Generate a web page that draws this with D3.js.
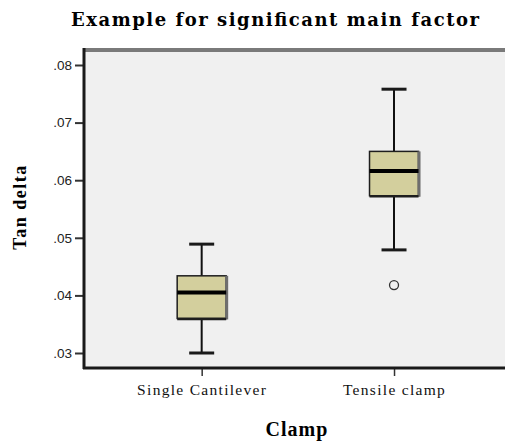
<!DOCTYPE html>
<html>
<head>
<meta charset="utf-8">
<script src="https://cdn.jsdelivr.net/npm/d3@7.9.0/dist/d3.min.js"></script>
<style>
  body { margin: 0; background: #fff; }
  svg { display: block; }
</style>
</head>
<body>
<svg id="chart" width="505" height="441"></svg>
<script>
// data
const categories = ['Single Cantilever', 'Tensile clamp'];
const whiskerLow = [0.0300, 0.0479];
const q1 = [0.0360, 0.0573];
const median = [0.0405, 0.0616];
const q3 = [0.0434, 0.0650];
const whiskerHigh = [0.0489, 0.0758];
const outliers = [[], [0.0418]];
const yTicks = [0.03, 0.04, 0.05, 0.06, 0.07, 0.08];

const boxes = categories.map((c, i) => ({
  name: c, lo: whiskerLow[i], q1: q1[i], med: median[i], q3: q3[i], hi: whiskerHigh[i], out: outliers[i]
}));

const svg = d3.select('#chart');
const plotLeft = 83, plotRight = 505, plotTop = 48, plotBottom = 369;
const serif = 'Liberation Serif, Times New Roman, serif';

let y = d3.scaleLinear().domain([0.03, 0.08]).range([353, 65]);
let x = d3.scalePoint().domain(categories).range([plotLeft, 512.7]).padding(0.617);

// plot background
svg.append('rect')
  .attr('x', plotLeft).attr('y', plotTop)
  .attr('width', plotRight - plotLeft).attr('height', plotBottom - plotTop)
  .attr('fill', '#f0f0f0');

// top frame line
svg.append('line')
  .attr('x1', plotLeft).attr('x2', plotRight)
  .attr('y1', plotTop + 2).attr('y2', plotTop + 2)
  .attr('stroke', '#7a7a7a').attr('stroke-width', 4);

// y axis
let yAxis = d3.axisLeft(y).tickValues(yTicks)
  .tickFormat(d => d3.format('.2f')(d).replace(/^0/, ''))
  .tickSize(8).tickPadding(3);
let gy = svg.append('g').attr('transform', `translate(${plotLeft},0)`).call(yAxis);
gy.select('.domain').remove();
gy.selectAll('.tick line').attr('stroke', '#333').attr('stroke-width', 2);
gy.selectAll('.tick text')
  .attr('font-family', 'Liberation Sans, Arial, sans-serif')
  .attr('font-size', 13.5).attr('fill', '#222');

svg.append('line')
  .attr('x1', plotLeft + 1).attr('x2', plotLeft + 1)
  .attr('y1', plotTop).attr('y2', plotBottom)
  .attr('stroke', '#1a1a1a').attr('stroke-width', 3);

// x axis
let xAxis = d3.axisBottom(x).tickSize(8).tickPadding(6);
let gx = svg.append('g').attr('transform', `translate(0,${plotBottom - 1})`).call(xAxis);
gx.select('.domain').remove();
gx.selectAll('.tick line').attr('stroke', '#333').attr('stroke-width', 1.5);
gx.selectAll('.tick text')
  .attr('font-family', serif)
  .attr('font-size', 15.5).attr('fill', '#111')
  .attr('letter-spacing', 1.3)
  .attr('dy', '0.85em');

svg.append('line')
  .attr('x1', plotLeft).attr('x2', plotRight)
  .attr('y1', plotBottom - 1).attr('y2', plotBottom - 1)
  .attr('stroke', '#1a1a1a').attr('stroke-width', 3);

// boxes
const boxW = 49, capW = 25;
let g = svg.append('g');
boxes.forEach(b => {
  let cx = x(b.name);
  // whiskers
  g.append('line').attr('x1', cx).attr('x2', cx)
    .attr('y1', y(b.hi)).attr('y2', y(b.q3))
    .attr('stroke', '#111').attr('stroke-width', 2);
  g.append('line').attr('x1', cx).attr('x2', cx)
    .attr('y1', y(b.q1)).attr('y2', y(b.lo))
    .attr('stroke', '#111').attr('stroke-width', 2);
  [b.hi, b.lo].forEach(v => {
    g.append('line')
      .attr('x1', cx - capW / 2).attr('x2', cx + capW / 2)
      .attr('y1', y(v)).attr('y2', y(v))
      .attr('stroke', '#1a1a1a').attr('stroke-width', 3);
  });
  // box
  g.append('rect')
    .attr('x', cx - boxW / 2).attr('y', y(b.q3))
    .attr('width', boxW).attr('height', y(b.q1) - y(b.q3))
    .attr('fill', '#d3cf9d').attr('stroke', '#1e1e1e').attr('stroke-width', 1.5);
  // shadow on the right and bottom edges
  g.append('line')
    .attr('x1', cx + boxW / 2 + 0.5).attr('x2', cx + boxW / 2 + 0.5)
    .attr('y1', y(b.q3)).attr('y2', y(b.q1) + 1)
    .attr('stroke', '#6e6e6e').attr('stroke-width', 3);
  g.append('line')
    .attr('x1', cx - boxW / 2).attr('x2', cx + boxW / 2)
    .attr('y1', y(b.q1) + 0.5).attr('y2', y(b.q1) + 0.5)
    .attr('stroke', '#1e1e1e').attr('stroke-width', 2.5);
  // median
  g.append('line')
    .attr('x1', cx - boxW / 2).attr('x2', cx + boxW / 2)
    .attr('y1', y(b.med)).attr('y2', y(b.med))
    .attr('stroke', '#000').attr('stroke-width', 4);
  // outliers
  b.out.forEach(v => {
    g.append('circle')
      .attr('cx', cx).attr('cy', y(v)).attr('r', 4.5)
      .attr('fill', 'none').attr('stroke', '#333').attr('stroke-width', 1.3);
  });
});

// titles
svg.append('text')
  .attr('x', 275).attr('y', 26)
  .attr('text-anchor', 'middle')
  .attr('font-family', 'DejaVu Serif, serif')
  .attr('font-weight', 'bold').attr('font-size', 18)
  .attr('textLength', 408).attr('lengthAdjust', 'spacing')
  .text('Example for significant main factor');

svg.append('text')
  .attr('transform', 'translate(26,207) rotate(-90)')
  .attr('text-anchor', 'middle')
  .attr('font-family', serif)
  .attr('font-weight', 'bold').attr('font-size', 18)
  .attr('letter-spacing', 1.5)
  .text('Tan delta');

svg.append('text')
  .attr('x', 297).attr('y', 436)
  .attr('text-anchor', 'middle')
  .attr('font-family', serif)
  .attr('font-weight', 'bold').attr('font-size', 20)
  .attr('letter-spacing', 1)
  .text('Clamp');
</script>
</body>
</html>
